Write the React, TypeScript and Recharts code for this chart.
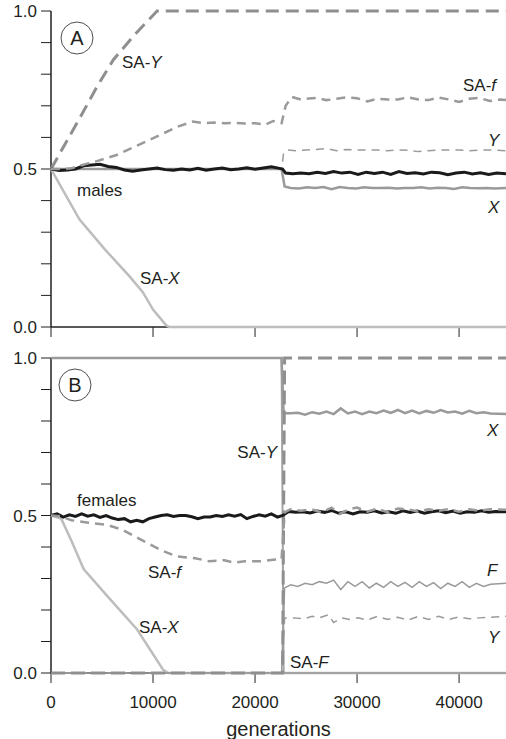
import React from 'react';
import { LineChart, Line, XAxis, YAxis } from 'recharts';

type Pt = [number, number];

// generation axis
const xMax = 44600;
const xTicks = [0, 10000, 20000, 30000, 40000];
const yTicks = [0, 0.1, 0.2, 0.3, 0.4, 0.5, 0.6, 0.7, 0.8, 0.9, 1.0];
const yLabelled = [0, 0.5, 1];

// ---- panel A (males) ----
const saYMales: Pt[] = [[0, 0.5], [1400, 0.58], [2800, 0.66], [4500, 0.76], [6100, 0.845], [8200, 0.925], [10400, 1.0], [44600, 1.0]];
const saFMales: Pt[] = [
  [0, 0.5], [1000, 0.5], [2000, 0.502], [3000, 0.512], [4500, 0.525], [6500, 0.545], [8500, 0.575], [10500, 0.605], [12500, 0.635],
  [13900, 0.65], [15000, 0.645], [16000, 0.647], [17000, 0.645], [18000, 0.646], [19000, 0.644], [20000, 0.645], [21000, 0.64],
  [21800, 0.652], [22600, 0.645], [23000, 0.7], [23600, 0.728], [24500, 0.72], [25300, 0.723], [26100, 0.725], [27000, 0.718],
  [28000, 0.722], [29000, 0.727], [30000, 0.724], [31000, 0.714], [32000, 0.722], [33000, 0.72], [34000, 0.72], [35000, 0.727],
  [36000, 0.72], [37000, 0.718], [38000, 0.726], [39000, 0.72], [40000, 0.712], [41000, 0.722], [42000, 0.725], [43000, 0.715],
  [44000, 0.72], [44600, 0.718],
];
const yMales: Pt[] = [
  [0, 0.5], [22600, 0.5], [22800, 0.55], [23200, 0.56], [24000, 0.558], [25000, 0.56], [26000, 0.562], [27000, 0.565], [28000, 0.558],
  [29000, 0.562], [30000, 0.56], [31000, 0.56], [32000, 0.56], [33000, 0.558], [34000, 0.56], [35000, 0.559], [36000, 0.555],
  [37000, 0.558], [38000, 0.56], [39000, 0.56], [40000, 0.56], [41000, 0.558], [42000, 0.56], [43000, 0.56], [44600, 0.558],
];
const males: Pt[] = [
  [0, 0.5], [800, 0.495], [1600, 0.497], [2400, 0.5], [3200, 0.51], [4000, 0.513], [4800, 0.515], [5600, 0.508], [6400, 0.505],
  [7200, 0.497], [8000, 0.493], [8800, 0.497], [9600, 0.5], [10400, 0.503], [11200, 0.498], [12000, 0.496], [12800, 0.5],
  [13600, 0.497], [14400, 0.502], [15200, 0.496], [16000, 0.5], [16800, 0.503], [17600, 0.498], [18400, 0.5], [19200, 0.504],
  [20000, 0.499], [20800, 0.503], [21600, 0.507], [22400, 0.502], [22700, 0.5], [23000, 0.487], [23700, 0.485], [24500, 0.487],
  [25300, 0.485], [26100, 0.49], [26900, 0.486], [27700, 0.492], [28500, 0.487], [29300, 0.49], [30100, 0.483], [30900, 0.49],
  [31700, 0.486], [32500, 0.49], [33300, 0.483], [34100, 0.492], [34900, 0.486], [35700, 0.488], [36500, 0.484], [37300, 0.49],
  [38100, 0.488], [38900, 0.482], [39700, 0.487], [40500, 0.49], [41300, 0.484], [42100, 0.488], [42900, 0.483], [43700, 0.487],
  [44600, 0.485],
];
const xMales: Pt[] = [
  [0, 0.5], [22600, 0.5], [22900, 0.445], [23500, 0.44], [24300, 0.438], [25100, 0.442], [25900, 0.44], [26700, 0.443],
  [27500, 0.436], [28300, 0.443], [29100, 0.44], [29900, 0.438], [30700, 0.442], [31500, 0.44], [32300, 0.44], [33100, 0.441],
  [33900, 0.438], [34700, 0.44], [35500, 0.44], [36300, 0.442], [37100, 0.438], [37900, 0.441], [38700, 0.44], [39500, 0.437],
  [40300, 0.442], [41100, 0.44], [41900, 0.439], [42700, 0.44], [43500, 0.438], [44600, 0.44],
];
const saXMales: Pt[] = [[0, 0.5], [1400, 0.42], [2800, 0.34], [5300, 0.245], [7700, 0.16], [9000, 0.11], [10000, 0.055], [11300, 0.005], [11600, 0], [44600, 0]];

// ---- panel B (females) ----
const females: Pt[] = [
  [0, 0.5], [600, 0.505], [1200, 0.495], [1800, 0.502], [2400, 0.497], [3000, 0.505], [3600, 0.498], [4200, 0.502], [4800, 0.494],
  [5400, 0.5], [6000, 0.492], [6600, 0.487], [7200, 0.49], [7800, 0.48], [8400, 0.485], [9000, 0.48], [9600, 0.49], [10200, 0.495],
  [10800, 0.5], [11400, 0.502], [12000, 0.497], [12600, 0.5], [13200, 0.5], [13800, 0.496], [14400, 0.49], [15000, 0.495],
  [15600, 0.495], [16200, 0.5], [16800, 0.497], [17400, 0.502], [18000, 0.498], [18600, 0.503], [19200, 0.49], [19800, 0.497],
  [20400, 0.502], [21000, 0.498], [21600, 0.505], [22200, 0.495], [22700, 0.5], [23300, 0.513], [24000, 0.51], [24700, 0.512],
  [25400, 0.508], [26100, 0.514], [26800, 0.51], [27500, 0.516], [28200, 0.507], [28900, 0.512], [29600, 0.505], [30300, 0.512],
  [31000, 0.51], [31700, 0.515], [32400, 0.508], [33100, 0.512], [33800, 0.507], [34500, 0.515], [35200, 0.51], [35900, 0.514],
  [36600, 0.507], [37300, 0.512], [38000, 0.515], [38700, 0.509], [39400, 0.514], [40100, 0.507], [40800, 0.512], [41500, 0.51],
  [42200, 0.515], [42900, 0.51], [43600, 0.513], [44600, 0.512],
];
const saFFemales: Pt[] = [
  [0, 0.5], [1000, 0.497], [2000, 0.485], [3500, 0.478], [5500, 0.47], [7000, 0.455], [9000, 0.42], [10800, 0.39], [12300, 0.37],
  [14000, 0.365], [15500, 0.355], [17000, 0.358], [18000, 0.35], [19000, 0.355], [20500, 0.355], [22000, 0.36], [22600, 0.362],
  [22900, 0.51], [23500, 0.52], [24500, 0.515], [25500, 0.52], [26500, 0.51], [27500, 0.525], [28300, 0.505], [29200, 0.52],
  [30000, 0.525], [31000, 0.512], [32000, 0.522], [33000, 0.51], [34000, 0.522], [35000, 0.52], [36000, 0.512], [37000, 0.52],
  [38000, 0.515], [39000, 0.52], [40000, 0.512], [41000, 0.52], [42000, 0.515], [43000, 0.52], [44600, 0.518],
];
const saYFemales: Pt[] = [[0, 0], [22700, 0], [22900, 1.0], [44600, 1.0]];
const xFemales: Pt[] = [
  [0, 1], [22600, 1], [22800, 0.825], [23500, 0.825], [24200, 0.826], [24900, 0.82], [25600, 0.828], [26300, 0.823], [27000, 0.83],
  [27700, 0.822], [28400, 0.84], [29100, 0.824], [29800, 0.83], [30500, 0.822], [31200, 0.83], [31900, 0.825], [32600, 0.833],
  [33300, 0.826], [34000, 0.835], [34700, 0.825], [35400, 0.833], [36100, 0.824], [36800, 0.832], [37500, 0.826], [38200, 0.835],
  [38900, 0.827], [39600, 0.83], [40300, 0.823], [41000, 0.832], [41700, 0.825], [42400, 0.828], [43100, 0.824], [44600, 0.822],
];
const fFemales: Pt[] = [
  [0, 0], [22600, 0], [22900, 0.27], [23500, 0.28], [24200, 0.275], [24900, 0.285], [25600, 0.28], [26300, 0.29], [27000, 0.285],
  [27700, 0.295], [28400, 0.265], [29100, 0.29], [29800, 0.275], [30500, 0.29], [31200, 0.27], [31900, 0.285], [32600, 0.272],
  [33300, 0.29], [34000, 0.275], [34700, 0.288], [35400, 0.272], [36100, 0.29], [36800, 0.275], [37500, 0.287], [38200, 0.268],
  [38900, 0.285], [39600, 0.275], [40300, 0.29], [41000, 0.272], [41700, 0.285], [42400, 0.275], [43100, 0.282], [44600, 0.285],
];
const yFemales: Pt[] = [
  [0, 0], [22600, 0], [22900, 0.175], [23800, 0.175], [24800, 0.172], [25600, 0.18], [26300, 0.175], [27200, 0.185], [27700, 0.16],
  [28500, 0.175], [29300, 0.17], [30100, 0.175], [31000, 0.168], [32000, 0.18], [33000, 0.17], [34000, 0.177], [35000, 0.168],
  [36000, 0.18], [37000, 0.17], [38000, 0.18], [39000, 0.17], [40000, 0.178], [41000, 0.172], [42000, 0.175], [43000, 0.177],
  [44600, 0.18],
];
const saFFemalesBig: Pt[] = [[0, 1], [22600, 1], [22800, 0], [44600, 0]];
const saXFemales: Pt[] = [[0, 0.5], [1000, 0.49], [2000, 0.42], [3200, 0.33], [5500, 0.245], [8400, 0.14], [9500, 0.085], [11000, 0.01], [11500, 0], [44600, 0]];

const pts = (a: Pt[]) => a.map(([g, v]) => ({ g, v }));

const INK = '#231f20';
const FONT = '"Liberation Sans", Arial, sans-serif';
const tickStyle = { fontSize: 17, fill: INK, fontFamily: FONT };

const yFmt = (v: number) => (yLabelled.some(t => Math.abs(t - v) < 1e-6) ? v.toFixed(1) : '');

const axisY = (
  <YAxis
    type="number"
    domain={[0, 1]}
    ticks={yTicks}
    interval={0}
    width={51}
    tickSize={10}
    tickMargin={4}
    tickFormatter={yFmt}
    tick={tickStyle}
    axisLine={{ stroke: INK, strokeWidth: 1.5 }}
    tickLine={{ stroke: INK }}
  />
);

// zIndex keeps the series above the axis line, so lines sitting at 0 cover it
const line = (key: string, data: Pt[], stroke: string, width: number, dash?: string) => (
  <Line
    key={key}
    data={pts(data)}
    dataKey="v"
    type="linear"
    stroke={stroke}
    strokeWidth={width}
    strokeDasharray={dash}
    dot={false}
    activeDot={false}
    isAnimationActive={false}
    {...({ zIndex: 700 } as any)}
  />
);

const Annotations: React.FC = () => {
  const t = { fontSize: 17, fill: INK, fontFamily: FONT };
  const it = { ...t, fontStyle: 'italic' as const };
  return (
    <svg width={506} height={739} style={{ position: 'absolute', left: 0, top: 0, pointerEvents: 'none' }}>
      <circle cx={77} cy={38} r={16} fill="white" stroke={INK} strokeWidth={0.8} />
      <text x={77} y={45} textAnchor="middle" style={{ ...t, fontSize: 20 }}>A</text>
      <text x={122} y={68} style={t}>SA-<tspan style={it}>Y</tspan></text>
      <text x={463} y={91} style={t}>SA-<tspan style={it}>f</tspan></text>
      <text x={488} y={146} style={it}>Y</text>
      <text x={77} y={196} style={t}>males</text>
      <text x={488} y={213} style={it}>X</text>
      <text x={140} y={284} style={t}>SA-<tspan style={it}>X</tspan></text>

      <circle cx={75} cy={385} r={16} fill="white" stroke={INK} strokeWidth={0.8} />
      <text x={75} y={392} textAnchor="middle" style={{ ...t, fontSize: 20 }}>B</text>
      <text x={77} y={506} style={t}>females</text>
      <text x={148} y={578} style={t}>SA-<tspan style={it}>f</tspan></text>
      <text x={139} y={633} style={t}>SA-<tspan style={it}>X</tspan></text>
      <text x={277} y={458} textAnchor="end" style={t}>SA-<tspan style={it}>Y</tspan></text>
      <text x={487} y={436} style={it}>X</text>
      <text x={487} y={576} style={it}>F</text>
      <text x={488} y={643} style={it}>Y</text>
      <text x={290} y={668} style={t}>SA-<tspan style={it}>F</tspan></text>
    </svg>
  );
};

const App: React.FC = () => {
  return (
    <div style={{ position: 'absolute', left: 0, top: 0, width: 506, height: 739, background: 'white', fontFamily: FONT }}>
      <div style={{ position: 'absolute', left: 0, top: 0 }}>
        <LineChart width={506} height={340} margin={{ top: 11, right: 0, bottom: 0, left: 0 }}>
          <XAxis
            type="number"
            dataKey="g"
            domain={[0, xMax]}
            ticks={xTicks}
            height={13}
            tickSize={10}
            tickFormatter={() => ''}
            axisLine={{ stroke: INK, strokeWidth: 1.5 }}
            tickLine={{ stroke: INK }}
            allowDuplicatedCategory={false}
          />
          {axisY}
          {line('saX', saXMales, '#bdbdbd', 2.5)}
          {line('x', xMales, '#9a9a9a', 2.5)}
          {line('y', yMales, '#9a9a9a', 1.5, '8 6')}
          {line('saY', saYMales, '#8f8f8f', 3, '13 7')}
          {line('males', males, '#1a1a1a', 3)}
          {line('saF', saFMales, '#9a9a9a', 2.5, '9 6')}
        </LineChart>
      </div>
      <div style={{ position: 'absolute', left: 0, top: 340 }}>
        <LineChart width={506} height={399} margin={{ top: 18, right: 0, bottom: 0, left: 0 }}>
          <XAxis
            type="number"
            dataKey="g"
            domain={[0, xMax]}
            ticks={xTicks}
            height={66}
            tickSize={10}
            tickMargin={13}
            tick={tickStyle}
            axisLine={{ stroke: INK, strokeWidth: 1.5 }}
            tickLine={{ stroke: INK }}
            label={{ value: 'generations', position: 'insideBottom', offset: 3, style: { fontSize: 20, fill: INK, fontFamily: FONT } }}
            allowDuplicatedCategory={false}
          />
          {axisY}
          {line('saX', saXFemales, '#bdbdbd', 2.5)}
          {line('saFbig', saFFemalesBig, '#a3a3a3', 2)}
          {line('x', xFemales, '#9a9a9a', 2.5)}
          {line('f', fFemales, '#9a9a9a', 1.5)}
          {line('y', yFemales, '#9a9a9a', 1.5, '8 6')}
          {line('saY', saYFemales, '#8f8f8f', 3, '14 6')}
          {line('females', females, '#1a1a1a', 3)}
          {line('saF', saFFemales, '#9a9a9a', 2.5, '9 6')}
        </LineChart>
      </div>
      <Annotations />
    </div>
  );
};

export default App;
